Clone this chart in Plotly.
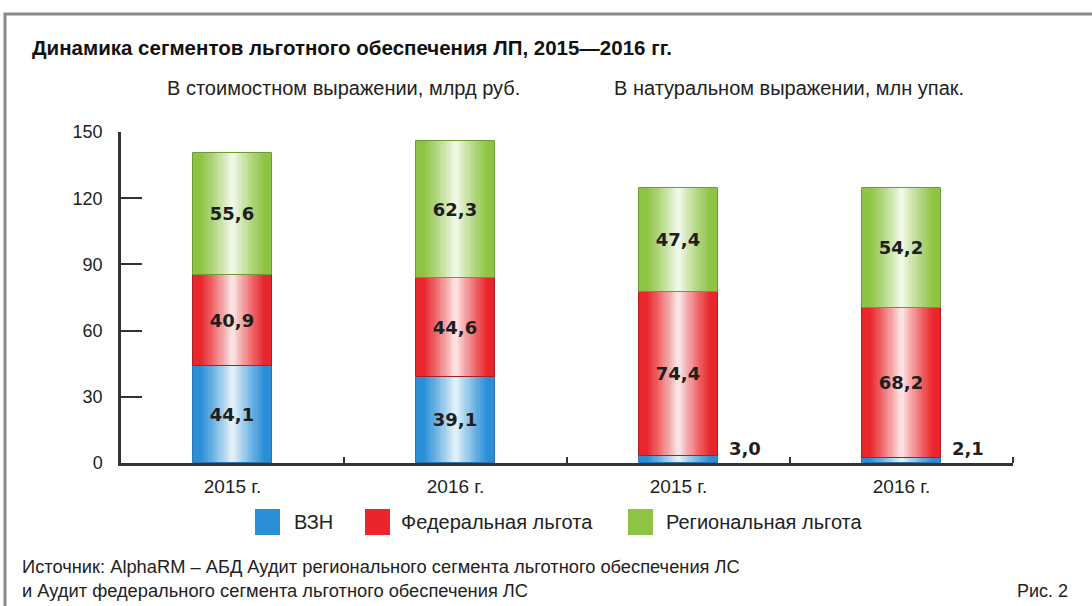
import plotly.graph_objects as go

# Chart data
categories = ["2015 г.", "2016 г.", "2015 г.", "2016 г."]
vzn = [44.1, 39.1, 3.0, 2.1]
federal = [40.9, 44.6, 74.4, 68.2]
regional = [55.6, 62.3, 47.4, 54.2]
series_names = ["ВЗН", "Федеральная льгота", "Региональная льгота"]
y_ticks = [0, 30, 60, 90, 120, 150]

title = "Динамика сегментов льготного обеспечения ЛП, 2015—2016 гг."
subtitle_left = "В стоимостном выражении, млрд руб."
subtitle_right = "В натуральном выражении, млн упак."
source = ("Источник: AlphaRM – АБД Аудит регионального сегмента льготного обеспечения ЛС"
          "<br>и Аудит федерального сегмента льготного обеспечения ЛС")
fig_label = "Рис. 2"

FONT = "Liberation Sans, Arial, sans-serif"
NUM_FONT = "DejaVu Sans, sans-serif"
colors = ["#2a8fd6", "#e8262b", "#8dc444"]
edges = ["#2b76b0", "#a82024", "#6d9a35"]
BAR_W = 0.353
STEPS = 18

# plot area in pixels (for placing free text)
L, R, T, B = 121, 79, 132, 143
W_PX, H_PX = 1092 - L - R, 606 - T - B


def px(x):
    return (x - L) / W_PX


def py(y):
    return (606 - B - y) / H_PX


def blend(hex_color, t):
    r, g, b = (int(hex_color[i:i + 2], 16) for i in (1, 3, 5))
    r, g, b = (round(c + (255 - c) * t) for c in (r, g, b))
    return f"rgb({r},{g},{b})"


def fmt(v):
    return f"{v:.1f}".replace(".", ",")


x = list(range(len(categories)))
values = [vzn, federal, regional]
bases = [[0] * 4,
         vzn,
         [a + b for a, b in zip(vzn, federal)]]

fig = go.Figure()

# cylinder-like shading: stacked layers of narrower, lighter bars
for vals, base, col in zip(values, bases, colors):
    for k in range(STEPS):
        d = 1 - k / STEPS
        t = 0.93 * max(0.0, 1 - d / 0.85) ** 1.15
        fig.add_trace(go.Bar(
            x=x, y=vals, base=base, width=BAR_W * d,
            marker=dict(color=blend(col, t), line=dict(width=0)),
            showlegend=False, hoverinfo="skip"))

# outlines + value labels
for vals, base, edge, name in zip(values, bases, edges, series_names):
    fig.add_trace(go.Bar(
        x=x, y=vals, base=base, width=BAR_W, name=name,
        marker=dict(color="rgba(0,0,0,0)", line=dict(color=edge, width=1)),
        text=[fmt(v) if v > 10 else "" for v in vals],
        textposition="inside", insidetextanchor="middle", textangle=0,
        constraintext="none",
        textfont=dict(family=NUM_FONT, size=18, color="#1e1e1e", weight="bold"),
        showlegend=False))

# small ВЗН values printed beside the bars
for i, v in enumerate(vzn):
    if v <= 10:
        fig.add_annotation(x=i + BAR_W / 2 + 0.04, y=0, text=fmt(v),
                           xanchor="left", yanchor="bottom", yshift=2,
                           showarrow=False,
                           font=dict(family=NUM_FONT, size=18, color="#1e1e1e",
                                     weight="bold"))

# title and subtitles
fig.add_annotation(x=px(30), y=py(48), xref="paper", yref="paper", text=title,
                   xanchor="left", yanchor="middle", showarrow=False,
                   font=dict(family=FONT, size=20.5, color="#111", weight="bold"))
fig.add_annotation(x=px(165), y=py(88), xref="paper", yref="paper",
                   text=subtitle_left, xanchor="left", yanchor="middle",
                   showarrow=False, font=dict(family=FONT, size=20, color="#222"))
fig.add_annotation(x=px(612), y=py(88), xref="paper", yref="paper",
                   text=subtitle_right, xanchor="left", yanchor="middle",
                   showarrow=False, font=dict(family=FONT, size=20, color="#222"))

# hand-made legend with large swatches
legend_sq = [255, 365, 628]
legend_tx = [292, 399, 664]
for name, col, sx, tx in zip(series_names, colors, legend_sq, legend_tx):
    fig.add_shape(type="rect", xref="paper", yref="paper",
                  x0=px(sx), x1=px(sx + 25), y0=py(535), y1=py(509),
                  fillcolor=col, line=dict(width=0))
    fig.add_annotation(x=px(tx), y=py(522), xref="paper", yref="paper",
                       text=name, xanchor="left", yanchor="middle",
                       showarrow=False,
                       font=dict(family=FONT, size=20, color="#222"))

# source and figure number
fig.add_annotation(x=px(20), y=py(578), xref="paper", yref="paper", text=source,
                   xanchor="left", yanchor="middle", align="left",
                   showarrow=False, font=dict(family=FONT, size=18.3, color="#222"))
fig.add_annotation(x=px(1070), y=py(591), xref="paper", yref="paper",
                   text=fig_label, xanchor="right", yanchor="middle",
                   showarrow=False, font=dict(family=FONT, size=18, color="#222"))

# frame
fig.add_shape(type="rect", xref="paper", yref="paper", layer="below",
              x0=px(5), x1=px(1200), y0=py(700), y1=py(14),
              line=dict(color="#8a8a8a", width=3), fillcolor="rgba(0,0,0,0)")

fig.update_layout(
    width=1092, height=606,
    margin=dict(l=L, r=R, t=T, b=B),
    barmode="overlay",
    bargap=0,
    plot_bgcolor="white", paper_bgcolor="white",
    showlegend=False,
    font=dict(family=FONT, color="#222"),
    xaxis=dict(
        range=[-0.5, 3.5], tickmode="array", tickvals=x, ticktext=categories,
        ticks="", showline=True, linecolor="#333", linewidth=2.5,
        showgrid=False, zeroline=False, ticklabelstandoff=4,
        tickfont=dict(size=19, color="#222"),
        minor=dict(tickmode="array", tickvals=[0.5, 1.5, 2.5, 3.5],
                   ticks="inside", ticklen=6, tickwidth=2, tickcolor="#333"),
    ),
    yaxis=dict(
        range=[0, 150], tickmode="array", tickvals=y_ticks,
        ticks="inside", ticklen=21, tickwidth=2, tickcolor="#333",
        showline=True, linecolor="#333", linewidth=2.5,
        showgrid=False, zeroline=False, ticklabelstandoff=12,
        tickfont=dict(size=18, color="#222"),
    ),
)

fig.write_html("out.html", config={"displayModeBar": False},
               post_script="document.body.style.margin='0';")
